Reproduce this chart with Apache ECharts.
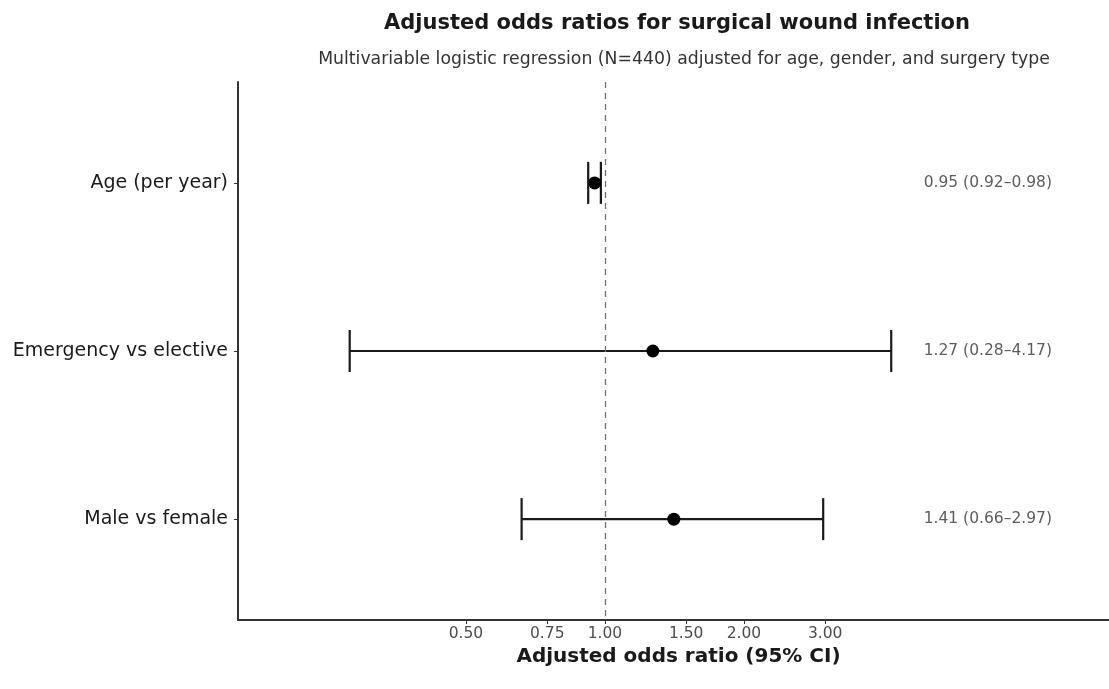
<!DOCTYPE html>
<html>
<head>
<meta charset="utf-8">
<script src="https://cdn.jsdelivr.net/npm/echarts@6/dist/echarts.min.js"></script>
<style>html,body{margin:0;padding:0;background:#fff}#c{width:1109px;height:689px}</style>
</head>
<body>
<div id="c"></div>
<script>
var categories = ['Age (per year)', 'Emergency vs elective', 'Male vs female'];
var oddsRatio = [0.95, 1.27, 1.41];
var ciLower = [0.92, 0.28, 0.66];
var ciUpper = [0.98, 4.17, 2.97];
var ciLabels = ['0.95 (0.92\u20130.98)', '1.27 (0.28\u20134.17)', '1.41 (0.66\u20132.97)'];
var xTicks = [0.50, 0.75, 1.00, 1.50, 2.00, 3.00];

var ln = Math.log;
var xMin = -1.830, xMax = 2.514;
var labelX = ln(6.75);
var FONT = 'DejaVu Sans, Liberation Sans, Arial';

var barData = categories.map(function (c, i) { return [ln(ciLower[i]), ln(ciUpper[i]), i + 1]; });
var pointData = categories.map(function (c, i) { return [ln(oddsRatio[i]), i + 1]; });
var textData = categories.map(function (c, i) { return [labelX, i + 1, ciLabels[i]]; });

var chart = echarts.init(document.getElementById('c'), null, {renderer: 'canvas'});
chart.setOption({
  animation: false,
  backgroundColor: '#ffffff',
  title: [
    {text: 'Adjusted odds ratios for surgical wound infection', left: 672, top: 8, textAlign: 'center',
     textStyle: {fontFamily: FONT, fontWeight: 'bold', fontSize: 21, color: '#1a1a1a'}},
    {text: 'Multivariable logistic regression (N=440) adjusted for age, gender, and surgery type', left: 679, top: 46, textAlign: 'center',
     textStyle: {fontFamily: FONT, fontWeight: 'normal', fontSize: 17.3, color: '#333333'}}
  ],
  grid: {left: 238, right: 0, top: 82, bottom: 69, containLabel: false},
  xAxis: {
    type: 'value', min: xMin, max: xMax,
    name: 'Adjusted odds ratio (95% CI)', nameLocation: 'middle', nameGap: 19,
    nameTextStyle: {fontFamily: FONT, fontWeight: 'bold', fontSize: 20, color: '#1a1a1a', padding: [0, 0, 0, 10]},
    axisLine: {show: true, onZero: false, lineStyle: {color: '#333333', width: 2}},
    axisTick: {show: true, length: 4, customValues: xTicks.map(ln), lineStyle: {color: '#333333', width: 1}},
    axisLabel: {customValues: xTicks.map(ln), margin: 6, fontFamily: FONT, fontSize: 15.5, color: '#4d4d4d',
      formatter: function (v) { return Math.exp(v).toFixed(2); }},
    splitLine: {show: false}
  },
  yAxis: {
    type: 'value', min: 0.4, max: 3.6, inverse: true,
    axisLine: {show: true, onZero: false, lineStyle: {color: '#333333', width: 2}},
    axisTick: {show: true, length: 4, customValues: [1, 2, 3], lineStyle: {color: '#333333', width: 1}},
    axisLabel: {customValues: [1, 2, 3], margin: 10, fontFamily: FONT, fontSize: 19, color: '#1a1a1a',
      formatter: function (v) { return categories[Math.round(v) - 1] || ''; }},
    splitLine: {show: false}
  },
  series: [
    {
      type: 'line', data: [], silent: true,
      markLine: {
        symbol: ['none', 'none'], silent: true, label: {show: false},
        lineStyle: {type: [6, 5], color: '#707070', width: 1.3},
        data: [{xAxis: 0}]
      }
    },
    {
      type: 'custom', data: barData, silent: true, z: 3,
      renderItem: function (params, api) {
        var lo = api.value(0), hi = api.value(1), y = api.value(2);
        var p1 = api.coord([lo, y]), p2 = api.coord([hi, y]);
        var c1 = api.coord([lo, y - 0.125]), c2 = api.coord([lo, y + 0.125]);
        var d1 = api.coord([hi, y - 0.125]), d2 = api.coord([hi, y + 0.125]);
        var st = {stroke: '#1a1a1a', lineWidth: 2.2};
        return {type: 'group', children: [
          {type: 'line', shape: {x1: p1[0], y1: p1[1], x2: p2[0], y2: p2[1]}, style: st},
          {type: 'line', shape: {x1: c1[0], y1: c1[1], x2: c2[0], y2: c2[1]}, style: st},
          {type: 'line', shape: {x1: d1[0], y1: d1[1], x2: d2[0], y2: d2[1]}, style: st}
        ]};
      }
    },
    {
      type: 'scatter', data: pointData, symbol: 'circle', symbolSize: 13, z: 4,
      itemStyle: {color: '#000000', opacity: 1}
    },
    {
      type: 'scatter', data: textData, symbolSize: 0, z: 5,
      label: {show: true, position: 'inside', formatter: function (p) { return p.value[2]; },
        fontFamily: FONT, fontSize: 15.5, color: '#333333'}
    }
  ]
});
</script>
</body>
</html>
